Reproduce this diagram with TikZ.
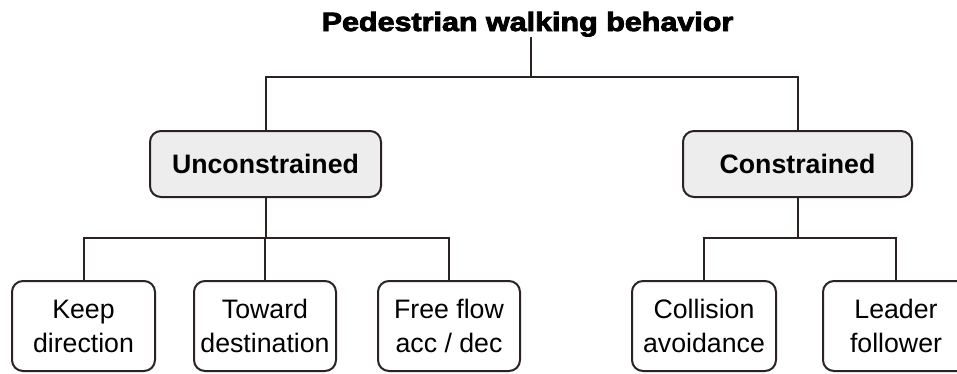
\documentclass[tikz,border=0pt]{standalone}
\usepackage{fontspec}
\setmainfont{Liberation Sans}
\usepackage{graphicx}
\definecolor{linec}{HTML}{2B2321}
\definecolor{boxfill}{HTML}{EDEDED}
\tikzset{
  conn/.style={draw=linec, line width=2pt},
  catbox/.style={draw=linec, line width=2pt, fill=boxfill, rounded corners=11pt,
    minimum height=66pt, inner sep=0pt, font=\fontsize{26.7}{30}\selectfont\bfseries},
  leafbox/.style={draw=linec, line width=2pt, fill=white, rounded corners=11pt,
    minimum height=90pt, inner sep=0pt, align=center,
    font=\fontsize{26.7}{34}\selectfont},
}
\begin{document}
\begin{tikzpicture}[x=1pt,y=-1pt]
\useasboundingbox (0,0) rectangle (957,373);
\node[anchor=base, inner sep=0pt, font=\fontsize{26.5}{30}\selectfont\bfseries] (title) at (527.5,31)
  {\scalebox{1.15}[1]{\addfontfeature{FakeBold=3}Pedestrian walking behavior}};
\node[catbox, minimum width=231pt] (unc) at (265.5,164) {Unconstrained};
\node[catbox, minimum width=229pt] (con) at (797.5,164) {Constrained};
\node[leafbox, minimum width=143pt] (keep) at (83.5,326) {Keep\\direction};
\node[leafbox, minimum width=142pt] (toward) at (265,326) {Toward\\destination};
\node[leafbox, minimum width=142pt] (free) at (449,326) {Free flow\\acc / dec};
\node[leafbox, minimum width=144pt] (coll) at (704,326) {Collision\\avoidance};
\node[leafbox, minimum width=146pt] (lead) at (896,326) {Leader\\follower};
\coordinate (j0) at (531,77);
\coordinate (j1) at (265.5,238);
\coordinate (j2) at (797.5,238);
\draw[conn] (title.south -| j0) -- (j0);
\draw[conn] (unc.north) |- (j0) -| (con.north);
\draw[conn] (unc.south) -- (j1);
\draw[conn] (keep.north) |- (j1) -| (free.north);
\draw[conn] (toward.north) -- (toward.north |- j1);
\draw[conn] (con.south) -- (j2);
\draw[conn] (coll.north) |- (j2) -| (lead.north);
\end{tikzpicture}
\end{document}
